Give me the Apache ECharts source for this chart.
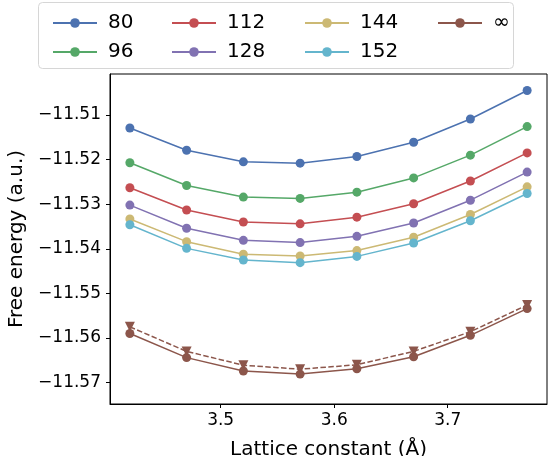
<!DOCTYPE html>
<html>
<head>
<meta charset="utf-8">
<script src="https://cdn.jsdelivr.net/npm/echarts@6/dist/echarts.min.js"></script>
<style>
  html, body { margin: 0; padding: 0; background: #fff; }
  #main { width: 548px; height: 456px; }
</style>
</head>
<body>
<div id="main"></div>
<script>
// data
var latticeConst = [3.42, 3.47, 3.52, 3.57, 3.62, 3.67, 3.72, 3.77];
var seriesNames = ["80", "96", "112", "128", "144", "152", "∞"];
var e80 = [-11.5129, -11.5179, -11.5205, -11.5208, -11.5193, -11.5161, -11.5109, -11.5045];
var e96 = [-11.5207, -11.5258, -11.5284, -11.5287, -11.5273, -11.5241, -11.5190, -11.5126];
var e112 = [-11.5263, -11.5313, -11.5340, -11.5344, -11.5329, -11.5299, -11.5248, -11.5185];
var e128 = [-11.5302, -11.5354, -11.5381, -11.5386, -11.5372, -11.5342, -11.5291, -11.5228];
var e144 = [-11.5333, -11.5384, -11.5412, -11.5416, -11.5404, -11.5374, -11.5323, -11.5261];
var e152 = [-11.5346, -11.5399, -11.5425, -11.5431, -11.5417, -11.5387, -11.5337, -11.5276];
var eInf = [-11.5590, -11.5644, -11.5674, -11.5681, -11.5669, -11.5642, -11.5594, -11.5534];
var eInfFit = [-11.5575, -11.5630, -11.5661, -11.5670, -11.5660, -11.5630, -11.5586, -11.5526];
var xTicks = [3.5, 3.6, 3.7];
var yTicks = [-11.57, -11.56, -11.55, -11.54, -11.53, -11.52, -11.51];

(function() {
  var myChart = echarts.init(document.getElementById("main"));
  var colors = ["#4c72b0", "#55a868", "#c44e52", "#8172b2", "#ccb974", "#64b5cd", "#8c564b"];
  var allData = [e80, e96, e112, e128, e144, e152, eInf];
  var font = "DejaVu Sans";

  function pairs(ys) {
    return latticeConst.map(function(x, i) { return [x, ys[i]]; });
  }

  var series = allData.map(function(ys, k) {
    return {
      name: seriesNames[k],
      type: "line",
      data: pairs(ys),
      symbol: "circle",
      symbolSize: 9,
      color: colors[k],
      lineStyle: { width: 1.5 },
      z: 3
    };
  });
  series.push({
    name: "fit",
    type: "line",
    data: pairs(eInfFit),
    symbol: "triangle",
    symbolRotate: 180,
    symbolSize: 10,
    color: colors[6],
    lineStyle: { width: 1.5, type: [5.5, 2.4] },
    z: 2
  });

  // legend is column-major in the original, so one legend per column
  var legendCols = [["80", "96"], ["112", "128"], ["144", "152"], ["∞"]];
  var legendLeft = [47, 166, 299, 432];
  var legends = legendCols.map(function(names, c) {
    return {
      data: names,
      orient: "vertical",
      left: legendLeft[c],
      top: 8,
      itemWidth: 44,
      itemHeight: 12,
      itemGap: 9,
      textStyle: { fontFamily: font, fontSize: 20, color: "#000", padding: [0, 0, 0, 6] },
      selectedMode: false
    };
  });

  var option = {
    animation: false,
    textStyle: { fontFamily: font },
    graphic: [{
      type: "rect",
      shape: { x: 38.5, y: 2.5, width: 475, height: 66, r: 4 },
      style: { fill: "rgba(255,255,255,0.8)", stroke: "#d6d6d6", lineWidth: 1 },
      z: -1
    }],
    legend: legends,
    grid: {
      left: 110,
      right: 1,
      top: 74,
      bottom: 52,
      outerBoundsMode: "none",
      containLabel: false,
      show: true,
      borderColor: "#000",
      borderWidth: 1
    },
    xAxis: {
      type: "value",
      min: 3.4025,
      max: 3.7875,
      name: "Lattice constant (Å)",
      nameLocation: "middle",
      nameGap: 36,
      nameTextStyle: { fontFamily: font, fontSize: 20, color: "#000" },
      axisLine: { lineStyle: { color: "#000" } },
      axisTick: { customValues: xTicks, length: 4, lineStyle: { color: "#000" } },
      axisLabel: {
        customValues: xTicks,
        fontFamily: font,
        fontSize: 17,
        color: "#000",
        margin: 8,
        formatter: function(v) { return v.toFixed(1); }
      },
      splitLine: { show: false }
    },
    yAxis: {
      type: "value",
      min: -11.5748,
      max: -11.5008,
      name: "Free energy (a.u.)",
      nameLocation: "middle",
      nameGap: 80,
      nameTextStyle: { fontFamily: font, fontSize: 20, color: "#000" },
      axisLine: { show: true, lineStyle: { color: "#000" } },
      axisTick: { show: true, customValues: yTicks, length: 4, lineStyle: { color: "#000" } },
      axisLabel: {
        customValues: yTicks,
        fontFamily: font,
        fontSize: 17,
        color: "#000",
        margin: 9,
        formatter: function(v) { return "\u2212" + Math.abs(v).toFixed(2); }
      },
      splitLine: { show: false }
    },
    series: series
  };
  myChart.setOption(option);
  window.addEventListener("resize", function() {
    myChart.resize();
  });
})();
</script>
</body>
</html>
